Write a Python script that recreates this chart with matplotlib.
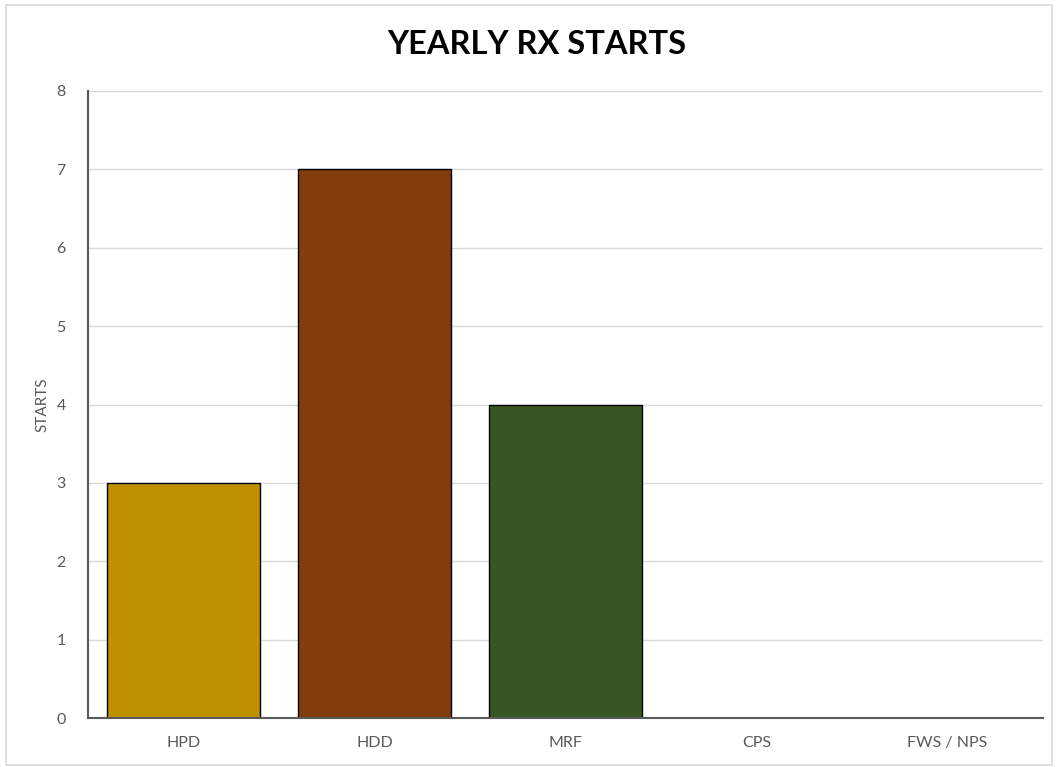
import matplotlib
matplotlib.use("Agg")
import matplotlib.pyplot as plt
from matplotlib.patches import Rectangle

categories = ["HPD", "HDD", "MRF", "CPS", "FWS / NPS"]
starts = [3, 7, 4, 0, 0]
colors = ["#BF9000", "#843C0C", "#375623", "#4472C4", "#A5A5A5"]
yticks = [0, 1, 2, 3, 4, 5, 6, 7, 8]

plt.rcParams['font.family'] = ['Lato', 'DejaVu Sans']

W, H = 1056, 767
fig = plt.figure(figsize=(W/100, H/100), dpi=100)
fig.patches.append(Rectangle((6/W, 1-765/H), (1052-6)/W, (765-5)/H,
                             transform=fig.transFigure, fill=False,
                             edgecolor="#D9D9D9", linewidth=1.2))
ax = fig.add_axes([88/W, 1-718/H, (1043-88)/W, (718-91)/H])

x = list(range(len(categories)))
ax.bar(x, starts, width=0.8, color=colors, edgecolor="black", linewidth=1.0, zorder=2)
ax.set_xlim(-0.5, len(categories)-0.5)
ax.set_ylim(0, 8)
ax.set_yticks(yticks)
ax.set_xticks(x)
ax.set_xticklabels(categories)
ax.yaxis.grid(True, color="#D9D9D9", linewidth=1.0, zorder=0)
ax.set_axisbelow(True)
for s in ["top", "right"]:
    ax.spines[s].set_visible(False)
for s in ["left", "bottom"]:
    ax.spines[s].set_color("#595959")
    ax.spines[s].set_linewidth(1.5)
    ax.spines[s].set_zorder(3)
ax.tick_params(axis="both", length=0, colors="#595959", labelsize=11.5)
ax.tick_params(axis="x", pad=13)
ax.tick_params(axis="y", pad=16)
ax.set_ylabel("STARTS", color="#595959", fontsize=11, labelpad=5)
fig.text(537/W, 1-45/H, "YEARLY RX STARTS", ha="center", va="center",
         fontsize=23.5, fontweight="bold", color="black")

fig.savefig("out.png", dpi=100)
